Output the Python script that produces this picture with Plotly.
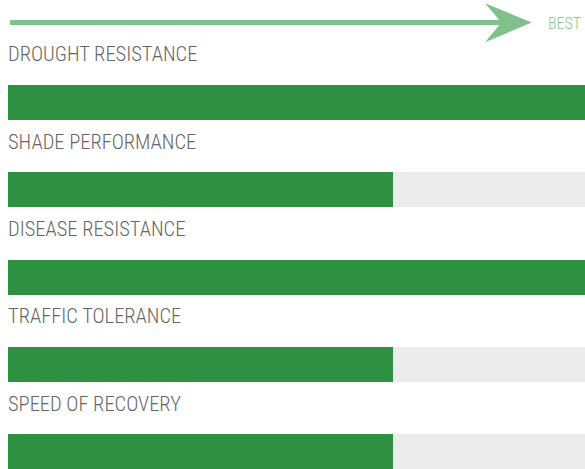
import plotly.graph_objects as go

categories = ["DROUGHT RESISTANCE", "SHADE PERFORMANCE", "DISEASE RESISTANCE",
              "TRAFFIC TOLERANCE", "SPEED OF RECOVERY"]
scores = [3, 2, 3, 2, 2]
max_score = 3
best_label = "BEST"

W, H = 585, 469
idx = list(range(len(categories)))

# pixel geometry helpers (layout only)
first_center = 102.5
step = 87.3
ytop = -first_center / step
ybot = (H - first_center) / step
bar_w = 35 / step

fig = go.Figure()
fig.add_trace(go.Bar(y=idx, x=[max_score] * len(idx), orientation="h",
                     marker=dict(color="#ececec", line=dict(width=0)),
                     width=bar_w, hoverinfo="skip", showlegend=False))
fig.add_trace(go.Bar(y=idx, x=scores, orientation="h",
                     marker=dict(color="#2e9142", line=dict(width=0)),
                     width=bar_w, showlegend=False))

label_font = "Roboto Condensed, Liberation Sans Narrow, sans-serif"
for i, c in zip(idx, categories):
    fig.add_annotation(x=0, xref="paper", y=i - 0.55, yref="y", text=c,
                       showarrow=False, xanchor="left", yanchor="middle",
                       xshift=-2,
                       font=dict(family=label_font, size=20.5, color="#666666",
                                 weight=300))

# arrow (decoration) in paper coords: px -> paper
def px(xp):
    return (xp - 8) / (W - 8)

def py(yp):
    return 1 - yp / H

arrow_col = "#80c08c"
fig.add_shape(type="rect", xref="paper", yref="paper",
              x0=px(10), x1=px(503), y0=py(20), y1=py(25),
              fillcolor=arrow_col, line=dict(width=0), layer="above")
path = (f"M {px(485)},{py(3.3)} L {px(531.7)},{py(22.5)} L {px(485)},{py(42.3)} "
        f"L {px(501.5)},{py(22.5)} Z")
fig.add_shape(type="path", xref="paper", yref="paper", path=path,
              fillcolor=arrow_col, line=dict(width=0), layer="above")
fig.add_annotation(x=px(583), xref="paper", y=py(23.5), yref="paper",
                   text=best_label, showarrow=False, xanchor="right",
                   yanchor="middle",
                   font=dict(family=label_font, size=16, color="#8cc596",
                             weight=300))

fig.update_layout(
    width=W, height=H, barmode="overlay",
    margin=dict(l=8, r=0, t=0, b=0),
    paper_bgcolor="white", plot_bgcolor="white",
    xaxis=dict(range=[0, max_score], visible=False, fixedrange=True),
    yaxis=dict(range=[ybot, ytop], visible=False, fixedrange=True),
    bargap=0,
)
fig.write_html("out.html", config={"displayModeBar": False},
               post_script="document.body.style.margin='0';")
